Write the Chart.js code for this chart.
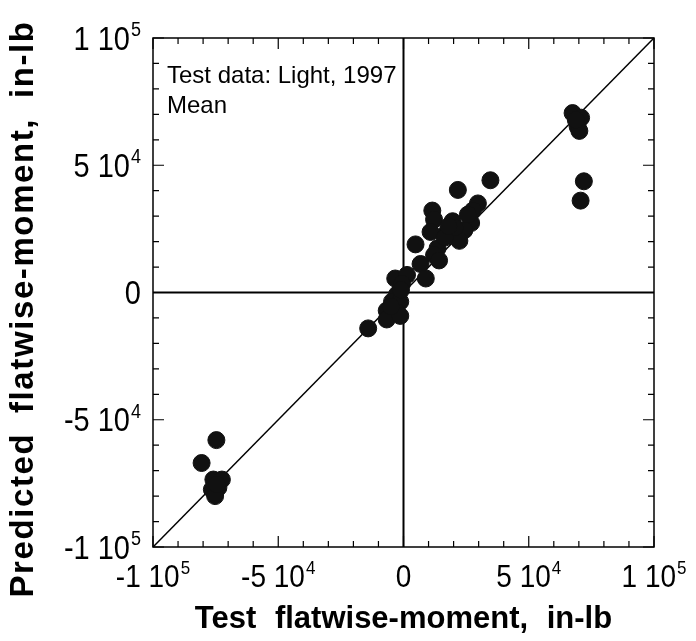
<!DOCTYPE html>
<html lang="en">
<head>
  <meta charset="UTF-8" />
  <title>Predicted vs test flatwise-moment</title>
  <script src="https://cdn.jsdelivr.net/npm/chart.js"></script>
  <style>
    body { margin: 0; background: #fff; }
    #wrap { width: 696px; height: 641px; position: relative; }
  </style>
</head>
<body>
<div id="wrap"><canvas id="chart" width="696" height="641"></canvas></div>

<script>
  // test (x) vs predicted (y) flatwise-moment, in-lb
  const testMoment = [
    -74700, -80600, -75900, -72500, -76500, -73900, -75200, -74500,
    67500, 70900, 69500, 70200, 68800, 72000, 70700,
    34700, 21700, 29700, 27700, 11500, 12200, 19600, 27000, 24300, 10800,
    16900, 22300, 4800, 13600, 12200, 14200, 6800, 8900, -3300, 1400,
    -600, -2600, -4600, -1300, -6700, -2600, -6700, -1300, -14100,
    20500, 16500, 25700, 18000, -1000, -5000
  ];
  const predictedMoment = [
    -58000, -67000, -73500, -73500, -77400, -76700, -80000, -75400,
    70500, 68700, 65200, 63500, 67800, 43700, 36100,
    44100, 40300, 35000, 32200, 32200, 28700, 28000, 27300, 24500, 23800,
    23100, 20300, 18900, 17400, 14700, 12600, 11200, 5500, 5500, 6900,
    3400, -800, -3600, -3600, -7100, -7800, -10600, -9200, -14100,
    25500, 21600, 30600, 26000, 1000, -5500
  ];

  const axisRange = [-100000, 100000];
  const tickValues = [-100000, -50000, 0, 50000, 100000];
  const tickMantissa = ['-1', '-5', '0', '5', '1'];
  const tickExponent = ['5', '4', '', '4', '5'];
  const minorStep = 10000;

  const FONT = '"Liberation Sans", Arial, sans-serif';

  function drawSci(ctx, mant, exp, x, y, size, align, ky) {
    const base = exp ? mant + ' 10' : mant;
    ctx.font = size + 'px ' + FONT;
    const wBase = ctx.measureText(base).width;
    const supSize = Math.round(size * 0.62);
    ctx.font = supSize + 'px ' + FONT;
    const wSup = exp ? ctx.measureText(exp).width + 1 : 0;
    const total = wBase + wSup;
    let x0 = x;
    if (align === 'center') x0 = x - total / 2;
    if (align === 'right') x0 = x - total;
    ctx.save();
    ctx.translate(0, y);
    ctx.scale(1, ky);
    ctx.textAlign = 'left';
    ctx.textBaseline = 'alphabetic';
    ctx.fillStyle = '#000';
    const baseline = size * 0.716 / 2;
    ctx.font = size + 'px ' + FONT;
    ctx.fillText(base, x0, baseline);
    if (exp) {
      ctx.font = supSize + 'px ' + FONT;
      ctx.fillText(exp, x0 + wBase + 1, baseline - size * 0.42);
    }
    ctx.restore();
  }

  const framePlugin = {
    id: 'frame',
    afterDatasetsDraw(chart) {
      const { ctx, chartArea: a, scales: { x, y } } = chart;
      ctx.save();
      ctx.strokeStyle = '#000';
      ctx.lineWidth = 1.5;
      ctx.strokeRect(a.left, a.top, a.right - a.left, a.bottom - a.top);

      // inward ticks every 1e4, longer at labelled values
      ctx.lineWidth = 1.2;
      ctx.beginPath();
      for (let v = axisRange[0]; v <= axisRange[1]; v += minorStep) {
        const len = (v % 50000 === 0) ? 11 : 6;
        const px = x.getPixelForValue(v);
        ctx.moveTo(px, a.bottom); ctx.lineTo(px, a.bottom - len);
        ctx.moveTo(px, a.top); ctx.lineTo(px, a.top + len);
        const py = y.getPixelForValue(v);
        ctx.moveTo(a.left, py); ctx.lineTo(a.left + len, py);
        ctx.moveTo(a.right, py); ctx.lineTo(a.right - len, py);
      }
      ctx.stroke();

      // tick labels
      tickValues.forEach((v, i) => {
        drawSci(ctx, tickMantissa[i], tickExponent[i], x.getPixelForValue(v), 576, 28, 'center', 1.12);
        drawSci(ctx, tickMantissa[i], tickExponent[i], a.left - 12, y.getPixelForValue(v), 29, 'right', 1.12);
      });

      // axis titles
      ctx.fillStyle = '#000';
      ctx.textAlign = 'center';
      ctx.textBaseline = 'middle';
      ctx.font = 'bold 31px ' + FONT;
      ctx.wordSpacing = '10px';
      ctx.fillText('Test flatwise-moment, in-lb', (a.left + a.right) / 2, 619);
      ctx.save();
      ctx.translate(24, 309);
      ctx.rotate(-Math.PI / 2);
      ctx.font = 'bold 33px ' + FONT;
      ctx.letterSpacing = '1.6px';
      ctx.wordSpacing = '9px';
      ctx.fillText('Predicted flatwise-moment, in-lb', 0, 0);
      ctx.restore();
      ctx.wordSpacing = '0px';
      ctx.letterSpacing = '0px';

      // annotation
      ctx.font = '24px ' + FONT;
      ctx.textAlign = 'left';
      ctx.textBaseline = 'alphabetic';
      ctx.fillText('Test data: Light, 1997', a.left + 14, 83);
      ctx.fillText('Mean', a.left + 14, 113);
      ctx.restore();
    }
  };

  const points = testMoment.map((v, i) => ({ x: v, y: predictedMoment[i] }));

  new Chart(document.getElementById('chart'), {
    type: 'scatter',
    data: {
      datasets: [
        {
          label: 'Mean',
          data: points,
          backgroundColor: '#111',
          borderColor: '#111',
          pointRadius: 8.5,
          pointHoverRadius: 8.5,
          order: 1
        },
        {
          type: 'line',
          label: 'Perfect agreement',
          data: [{ x: axisRange[0], y: axisRange[0] }, { x: axisRange[1], y: axisRange[1] }],
          borderColor: '#000',
          borderWidth: 1.5,
          pointRadius: 0,
          order: 2
        },
        {
          type: 'line',
          label: 'zero x',
          data: [{ x: axisRange[0], y: 0 }, { x: axisRange[1], y: 0 }],
          borderColor: '#000',
          borderWidth: 2,
          pointRadius: 0,
          order: 3
        },
        {
          type: 'line',
          label: 'zero y',
          data: [{ x: 0, y: axisRange[0] }, { x: 0, y: axisRange[1] }],
          borderColor: '#000',
          borderWidth: 2,
          pointRadius: 0,
          order: 3
        }
      ]
    },
    options: {
      responsive: false,
      animation: false,
      layout: { padding: { left: 153, right: 42, top: 38, bottom: 94 } },
      plugins: {
        legend: { display: false },
        tooltip: { enabled: false }
      },
      scales: {
        x: {
          type: 'linear',
          min: axisRange[0],
          max: axisRange[1],
          grid: { display: false },
          border: { display: false },
          ticks: { display: false },
          afterFit: s => { s.height = 0; }
        },
        y: {
          type: 'linear',
          min: axisRange[0],
          max: axisRange[1],
          grid: { display: false },
          border: { display: false },
          ticks: { display: false },
          afterFit: s => { s.width = 0; }
        }
      }
    },
    plugins: [framePlugin]
  });
</script>
</body>
</html>
